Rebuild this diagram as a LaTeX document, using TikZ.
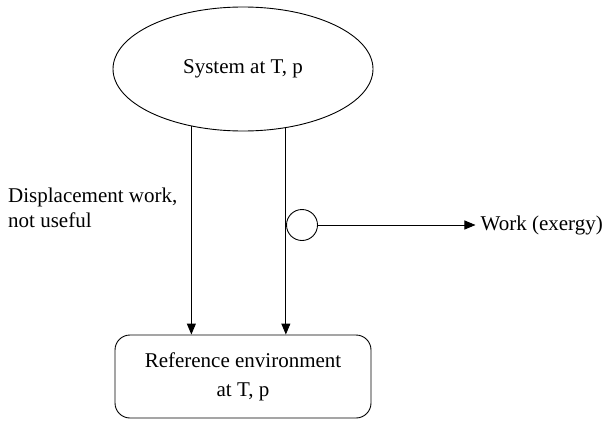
\documentclass[tikz,border=0pt]{standalone}
\usepackage{fontspec}
\setmainfont{Liberation Serif}
\usetikzlibrary{shapes.geometric,arrows.meta}
\begin{document}
\begin{tikzpicture}[x=1pt,y=-1pt,
  every node/.style={font=\fontsize{21}{25}\selectfont},
  arr/.style={line width=0.9pt,-{Stealth[length=11pt,width=9pt,inset=0pt]}},
  sysbox/.style={draw,line width=0.9pt,ellipse,minimum width=260pt,minimum height=124pt,inner sep=0pt},
  envbox/.style={draw,line width=0.9pt,rounded corners=15pt,minimum width=256pt,minimum height=83pt,inner sep=0pt,align=center},
  valve/.style={draw,line width=0.9pt,circle,minimum size=31pt,inner sep=0pt},
  lbl/.style={inner sep=0pt,align=left}]
\useasboundingbox (0,0) rectangle (604,420);
\node[sysbox] (sys) at (243,69) {System at T, p};
\node[envbox] (env) at (243,376.5) {Reference environment\\[4pt]at T, p};
\node[valve] (v) at (302,225) {};
\node[lbl,anchor=west] (dw) at (8,208) {Displacement work,\\not useful};
\node[lbl,anchor=east] (wk) at (603,225) {Work (exergy)};
\draw[arr] (sys.228) -- (sys.228 |- env.north);
\draw[arr] (sys.306) -- (sys.306 |- env.north);
\draw[arr] (v.east) -- ([xshift=-5pt]wk.west);
\end{tikzpicture}
\end{document}
